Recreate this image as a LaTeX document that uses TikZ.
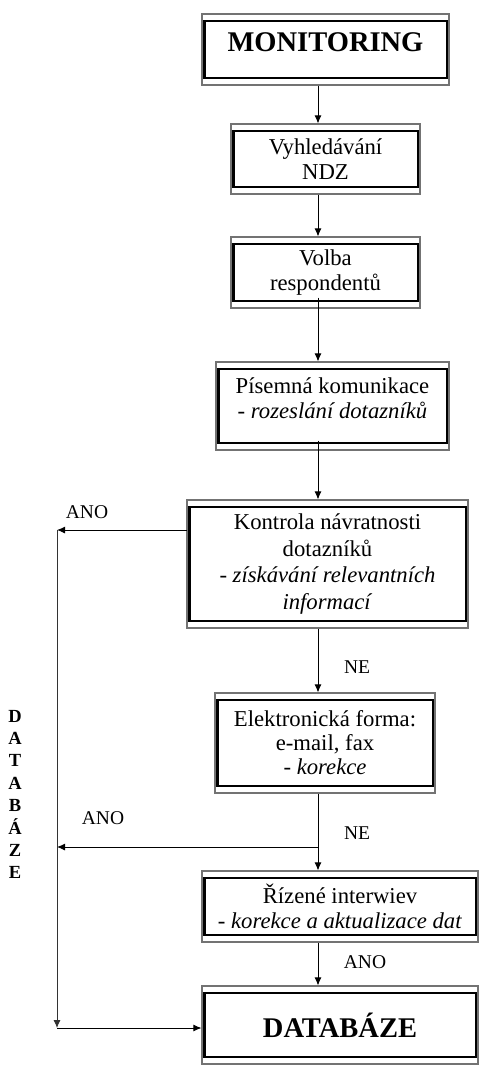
\documentclass[tikz,border=0pt]{standalone}
\usepackage{fontspec}
\setmainfont{Liberation Serif}
\usetikzlibrary{arrows.meta}
\begin{document}
\begin{tikzpicture}[x=1pt,y=-1pt,
  frame/.style={draw=black!55, line width=1.1pt, inner sep=0pt, align=center,
     font=\fontsize{22.7}{25}\selectfont,
     path picture={\draw[black,line width=2.6pt]
        ([xshift=2.2pt,yshift=-7pt]path picture bounding box.north west) rectangle
        ([xshift=-2.2pt,yshift=7pt]path picture bounding box.south east);}},
  boxtext/.style={inner sep=0pt, align=center, font=\fontsize{22.7}{25}\selectfont},
  bigtext/.style={inner sep=0pt, font=\bfseries\fontsize{28.5}{30}\selectfont},
  arr/.style={-{Latex[length=8pt,width=7pt]}, line width=0.9pt},
  lbl/.style={font=\fontsize{19.5}{22}\selectfont, inner sep=0pt}]
\useasboundingbox (0,0) rectangle (486,1065);

\coordinate (sp) at (318,0);
\coordinate (lt) at (57,0);

% boxes
\node[frame, minimum width=247pt, minimum height=71pt] (mon) at (325.5,49.5) {};
\node[bigtext] (mont) at (325.5,42) {MONITORING};

\node[frame, minimum width=189pt, minimum height=70pt] (vyh) at (325.5,159) {Vyhledávání\\NDZ};

\node[frame, minimum width=189pt, minimum height=71pt] (vol) at (325.5,272.5) {Volba\\respondentů};

\node[frame, minimum width=233pt, minimum height=88pt] (pis) at (332.5,406) {};
\node[boxtext] (pist) at (332.5,398) {Písemná komunikace\\- \textit{rozeslání dotazníků}};

\node[frame, minimum width=281pt, minimum height=128pt, font=\fontsize{22.7}{26.5}\selectfont] (kon) at (327.5,564)
  {Kontrola návratnosti\\dotazníků\\- \textit{získávání relevantních}\\\textit{informací}};

\node[frame, minimum width=220pt, minimum height=100pt, font=\fontsize{22.7}{24}\selectfont] (ele) at (325,743)
  {Elektronická forma:\\e-mail, fax\\- \textit{korekce}};

\node[frame, minimum width=276pt, minimum height=71pt] (riz) at (340,906.5)
  {Řízené interwiev\\- \textit{korekce a aktualizace dat}};

\node[frame, minimum width=276pt, minimum height=78pt, font=\bfseries\fontsize{28.5}{30}\selectfont] (dat) at (340,1025) {DATABÁZE};

% vertical side text
\node[inner sep=0pt, align=center, font=\bfseries\fontsize{18.5}{22.4}\selectfont] (side) at (15,794.5)
  {D\\A\\T\\A\\B\\Á\\Z\\E};

% main spine
\draw[arr] (mon.south -| sp) -- (vyh.north -| sp);
\draw[arr] (vyh.south -| sp) -- (vol.north -| sp);
\draw[arr] ([yshift=11pt]vol.south -| sp) -- (pis.north -| sp);
\draw[arr] ([yshift=10pt]pis.south -| sp) -- (kon.north -| sp);
\draw[arr] (kon.south -| sp) -- (ele.north -| sp);
\draw[arr] (ele.south -| sp) -- (riz.north -| sp);
\draw[arr] (riz.south -| sp) -- (dat.north -| sp);

% ANO branches
\coordinate (a1) at (187,530);
\coordinate (a2) at (318,847);
\coordinate (lb) at (57,1028);
\draw[arr] (a1) -- (a1 -| lt);
\draw[arr] (a2) -- (a2 -| lt);
\draw[arr, black!80] (a1 -| lt) -- (lb);
\draw[arr] (lb) -- (lb -| dat.west);

% labels
\node[lbl] (l1) at (87,512) {ANO};
\node[lbl] (l2) at (357,667) {NE};
\node[lbl] (l3) at (103,818) {ANO};
\node[lbl] (l4) at (357,833) {NE};
\node[lbl] (l5) at (365,962) {ANO};
\end{tikzpicture}
\end{document}
